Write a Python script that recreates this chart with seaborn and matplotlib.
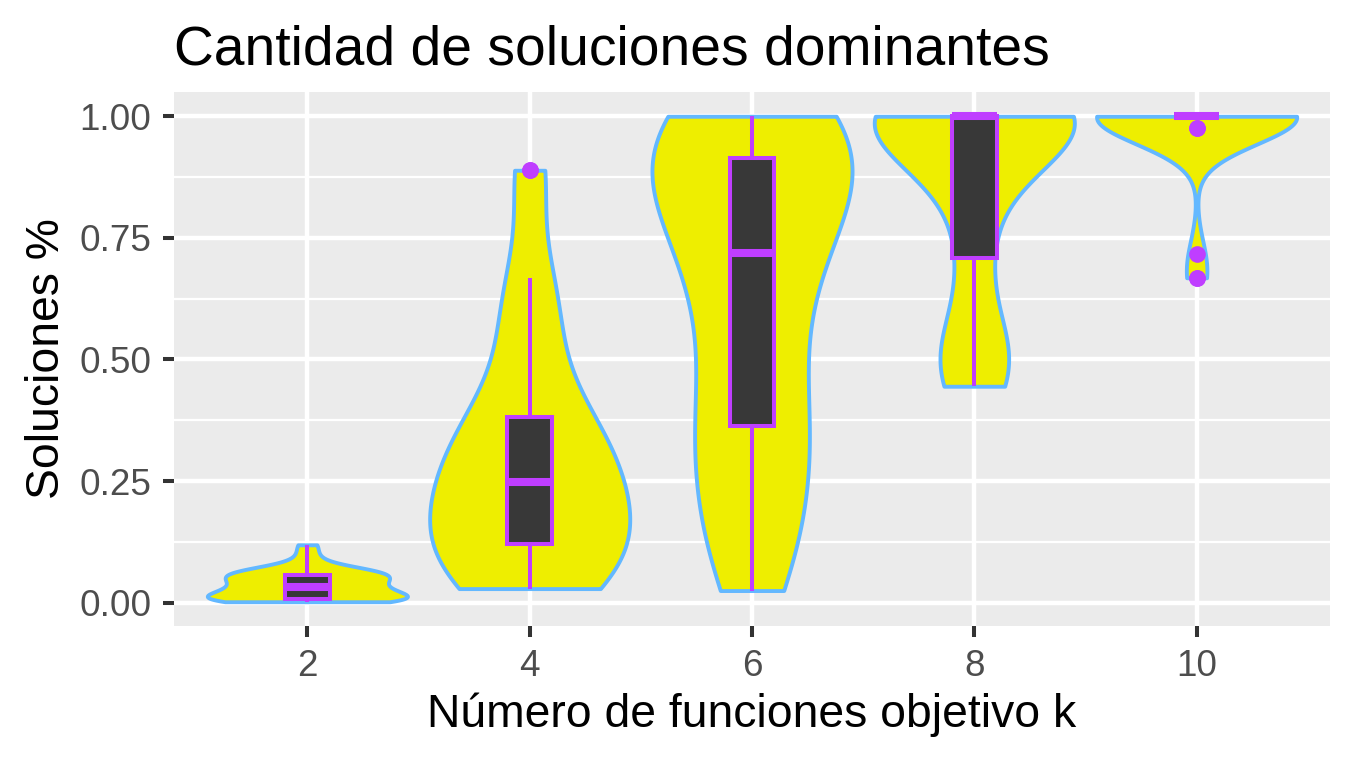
import numpy as np
import pandas as pd
import matplotlib
matplotlib.use("Agg")
import matplotlib.pyplot as plt
import seaborn as sns
from matplotlib.ticker import FixedLocator, FixedFormatter

# ---------------- data ----------------
K_LABELS = ["2", "4", "6", "8", "10"]

SOL_K2 = [0.002, 0.003, 0.005, 0.006, 0.007, 0.007, 0.008, 0.008,
          0.010, 0.014, 0.018, 0.022, 0.026, 0.029, 0.031,
          0.035, 0.039, 0.043, 0.047, 0.050, 0.053, 0.056,
          0.0585, 0.061, 0.063, 0.066, 0.069, 0.072, 0.095, 0.119]

SOL_K4 = [0.029, 0.031, 0.038, 0.050, 0.065, 0.080, 0.100, 0.118,
          0.130, 0.145, 0.160, 0.180, 0.200, 0.220, 0.240,
          0.256, 0.275, 0.295, 0.315, 0.335, 0.355, 0.370,
          0.387, 0.450, 0.520, 0.590, 0.635, 0.668, 0.889, 0.889]

SOL_K6 = [0.025, 0.070, 0.120, 0.170, 0.220, 0.270, 0.320, 0.360,
          0.372, 0.430, 0.490, 0.550, 0.610, 0.660, 0.700,
          0.738, 0.770, 0.800, 0.830, 0.860, 0.880, 0.900,
          0.920, 0.940, 0.960, 0.980, 1.000, 1.000, 1.000, 1.000]

SOL_K8 = [0.445, 0.450, 0.470, 0.490, 0.510, 0.530, 0.570,
          0.705, 0.720, 0.830, 0.870, 0.900, 0.940, 0.970,
          1.000, 1.000, 1.000, 1.000, 1.000, 1.000, 1.000, 1.000,
          1.000, 1.000, 1.000, 1.000, 1.000, 1.000, 1.000, 1.000]

SOL_K10 = [0.668, 0.668, 0.717, 0.976, 0.976,
           1.000, 1.000, 1.000, 1.000, 1.000, 1.000, 1.000, 1.000,
           1.000, 1.000, 1.000, 1.000, 1.000, 1.000, 1.000, 1.000,
           1.000, 1.000, 1.000, 1.000, 1.000, 1.000, 1.000, 1.000, 1.000]

Y_TICKS = [0.0, 0.25, 0.5, 0.75, 1.0]
Y_TICK_LABELS = ["0.00", "0.25", "0.50", "0.75", "1.00"]
Y_MINOR = [0.125, 0.375, 0.625, 0.875]

TITLE = "Cantidad de soluciones dominantes"
XLABEL = "Número de funciones objetivo k"
YLABEL = "Soluciones %"

# ---------------- style ----------------
YELLOW = "#EEEE00"
BLUE = "#63B8FF"
PURPLE = "#BF3EFF"
DARK = "#383838"
PANEL = "#EBEBEB"
BW_ADJUST = [1.0, 1.2, 1.0, 1.0, 1.25]

groups = [SOL_K2, SOL_K4, SOL_K6, SOL_K8, SOL_K10]
df = pd.DataFrame({
    "k": np.repeat(K_LABELS, [len(g) for g in groups]),
    "sol": np.concatenate([np.asarray(g, float) for g in groups]),
})


def nrd0(x):
    """R's default bandwidth (bw.nrd0), as used by ggplot's violins."""
    x = np.asarray(x, float)
    hi = x.std(ddof=1)
    q1, q3 = np.percentile(x, [25, 75])
    lo = min(hi, (q3 - q1) / 1.34)
    if lo <= 0:
        lo = hi
    return 0.9 * lo * len(x) ** -0.2


sns.set_theme(style="white")
plt.rcParams["font.family"] = ["Liberation Sans", "DejaVu Sans"]

fig = plt.figure(figsize=(13.53, 7.65), dpi=100)
ax = fig.add_axes([174 / 1353, 1 - 626 / 765, (1330 - 174) / 1353, (626 - 92) / 765])

for i, (lab, vals) in enumerate(zip(K_LABELS, groups)):
    sub = df[df["k"] == lab]
    factor = nrd0(vals) / np.std(vals, ddof=1)
    sns.violinplot(data=sub, x="k", y="sol", order=K_LABELS, ax=ax,
                   cut=0, density_norm="width", bw_method=factor,
                   bw_adjust=BW_ADJUST[i], gridsize=512, inner=None,
                   width=0.9, color=YELLOW, linecolor=BLUE, linewidth=2.8,
                   saturation=1)

sns.boxplot(data=df, x="k", y="sol", order=K_LABELS, ax=ax, width=0.2,
            color=DARK, linecolor=PURPLE, linewidth=2.9, saturation=1,
            whis=1.5, fliersize=12,
            flierprops=dict(marker="o", markerfacecolor=PURPLE,
                            markeredgecolor=PURPLE, markeredgewidth=0,
                            markersize=12),
            medianprops=dict(linewidth=5.8, color=PURPLE),
            capprops=dict(linewidth=0))

ax.set_xlim(-0.6, 4.6)
ymin, ymax = df["sol"].min(), df["sol"].max()
rng = ymax - ymin
ax.set_ylim(ymin - 0.05 * rng, ymax + 0.05 * rng)

ax.set_facecolor(PANEL)
for s in ax.spines.values():
    s.set_visible(False)

ax.yaxis.set_major_locator(FixedLocator(Y_TICKS))
ax.yaxis.set_major_formatter(FixedFormatter(Y_TICK_LABELS))
ax.yaxis.set_minor_locator(FixedLocator(Y_MINOR))
ax.grid(True, which="major", axis="both", color="white", linewidth=3.2)
ax.grid(True, which="minor", axis="y", color="white", linewidth=1.6)
ax.set_axisbelow(True)

ax.tick_params(which="major", length=7.9, width=2.9, color="#333333",
               labelsize=26.6, labelcolor="#4D4D4D", pad=8.5,
               bottom=True, left=True)
ax.tick_params(which="minor", length=0)

ax.set_xlabel(XLABEL, fontsize=33.3, color="black", labelpad=6)
ax.set_ylabel(YLABEL, fontsize=33.3, color="black", labelpad=7)
ax.set_title(TITLE, loc="left", fontsize=39.7, color="black", pad=20)

fig.savefig("out.png", dpi=100)
